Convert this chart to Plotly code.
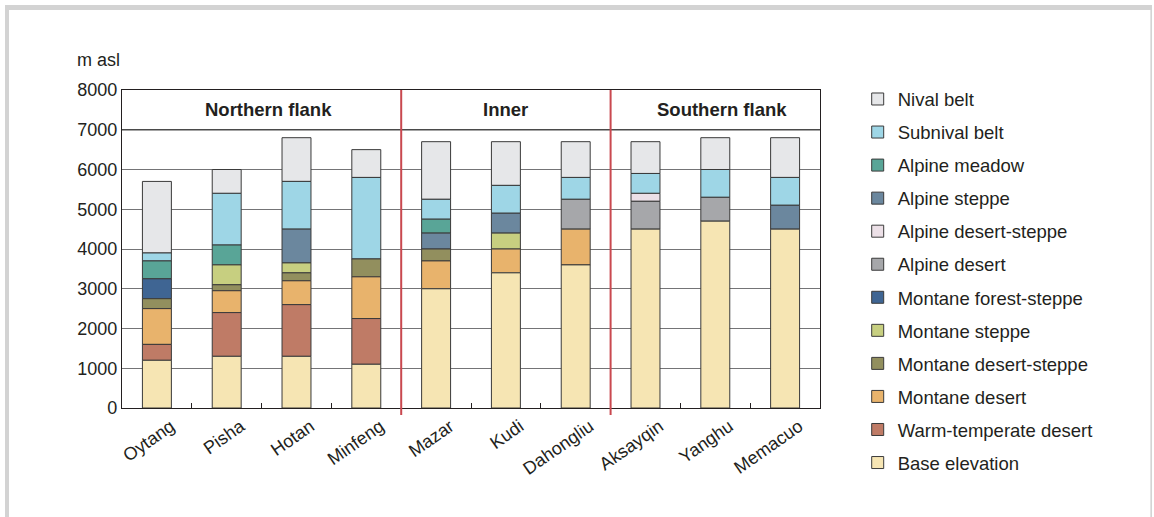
import plotly.graph_objects as go

# Sampling sites, west/north to south
sites = ["Oytang", "Pisha", "Hotan", "Minfeng", "Mazar", "Kudi",
         "Dahongliu", "Aksayqin", "Yanghu", "Memacuo"]

# Upper limit (m asl) of each altitudinal belt at each site; None = belt absent.
# Belts are listed from the valley floor upwards.
base_elevation = [1200, 1300, 1300, 1100, 3000, 3400, 3600, 4500, 4700, 4500]
warm_temperate_desert = [1600, 2400, 2600, 2250, None, None, None, None, None, None]
montane_desert = [2500, 2950, 3200, 3300, 3700, 4000, 4500, None, None, None]
montane_desert_steppe = [2750, 3100, 3400, 3750, 4000, None, None, None, None, None]
montane_steppe = [None, 3600, 3650, None, None, 4400, None, None, None, None]
montane_forest_steppe = [3250, None, None, None, None, None, None, None, None, None]
alpine_desert = [None, None, None, None, None, None, 5250, 5200, 5300, None]
alpine_desert_steppe = [None, None, None, None, None, None, None, 5400, None, None]
alpine_steppe = [None, None, 4500, None, 4400, 4900, None, None, None, 5100]
alpine_meadow = [3700, 4100, None, None, 4750, None, None, None, None, None]
subnival_belt = [3900, 5400, 5700, 5800, 5250, 5600, 5800, 5900, 6000, 5800]
nival_belt = [5700, 6000, 6800, 6500, 6700, 6700, 6700, 6700, 6800, 6800]

belts = [
    ("Base elevation", base_elevation, "#f6e5b3"),
    ("Warm-temperate desert", warm_temperate_desert, "#bf7b66"),
    ("Montane desert", montane_desert, "#e8b36c"),
    ("Montane desert-steppe", montane_desert_steppe, "#928f5e"),
    ("Montane steppe", montane_steppe, "#c7cf80"),
    ("Montane forest-steppe", montane_forest_steppe, "#3f6593"),
    ("Alpine desert", alpine_desert, "#a6a7aa"),
    ("Alpine desert-steppe", alpine_desert_steppe, "#ece0e7"),
    ("Alpine steppe", alpine_steppe, "#6b879e"),
    ("Alpine meadow", alpine_meadow, "#59a597"),
    ("Subnival belt", subnival_belt, "#9ed6e6"),
    ("Nival belt", nival_belt, "#e6e7e9"),
]

groups = [("Northern flank", 1.6), ("Inner", 5.0), ("Southern flank", 8.1)]
group_dividers = [3.5, 6.5]

FONT = "Liberation Sans, Arial, sans-serif"
INK = "#231f20"

# Each belt spans from the top of the belt below it to its own upper limit
lower = [0] * len(sites)
segments = []
for name, upper, color in belts:
    bases, heights = [], []
    for i, top in enumerate(upper):
        if top is None:
            bases.append(None)
            heights.append(None)
        else:
            bases.append(lower[i])
            heights.append(top - lower[i])
            lower[i] = top
    segments.append((name, bases, heights, color))

fig = go.Figure()
# Highest belt first so the legend reads top-down like the bars
for name, bases, heights, color in reversed(segments):
    fig.add_trace(go.Bar(
        x=sites, y=heights, base=bases, name=name,
        legendgroup=name,
        marker=dict(color=color, line=dict(color="#3a3a3a", width=1)),
    ))

shapes = []
# Header band separator
shapes.append(dict(type="line", xref="paper", yref="y", x0=0, x1=1, y0=7000, y1=7000,
                   line=dict(color="#4a4a4a", width=1.5), layer="above"))
# Group dividers
for xd in group_dividers:
    shapes.append(dict(type="line", xref="x", yref="paper", x0=xd, x1=xd, y0=-0.022, y1=1,
                       line=dict(color="#c9484f", width=2), layer="above"))
# Light frame around the figure
frame_col = "#d3d3d3"
shapes.append(dict(type="rect", xref="paper", yref="paper", x0=-0.1676, x1=1.4756,
                   y0=1.2516, y1=1.2673, line=dict(width=0), fillcolor=frame_col))
shapes.append(dict(type="rect", xref="paper", yref="paper", x0=-0.1676, x1=-0.1619,
                   y0=-0.35, y1=1.2673, line=dict(width=0), fillcolor=frame_col))
shapes.append(dict(type="rect", xref="paper", yref="paper", x0=1.4733, x1=1.4756,
                   y0=-0.35, y1=1.2673, line=dict(width=0), fillcolor=frame_col))

annotations = [
    dict(text=f"<b>{label}</b>", x=gx, y=7500, xref="x", yref="y", showarrow=False,
         font=dict(family=FONT, size=18.5, color=INK))
    for label, gx in groups
]
annotations.append(dict(text="m asl", x=-0.0673, y=1.095, xref="paper", yref="paper",
                        xanchor="left", yanchor="middle", showarrow=False,
                        font=dict(family=FONT, size=18, color=INK)))

fig.update_layout(
    width=1154, height=517,
    margin=dict(l=122, r=334, t=90, b=109),
    paper_bgcolor="white", plot_bgcolor="white",
    barmode="overlay", bargap=0.585,
    font=dict(family=FONT, size=18, color=INK),
    showlegend=True,
    legend=dict(
        x=1.054, xanchor="left", y=1.03, yanchor="top",
        traceorder="grouped", tracegroupgap=6,
        font=dict(family=FONT, size=18.5, color=INK),
        bgcolor="rgba(0,0,0,0)", maxheight=1,
    ),
    shapes=shapes,
    annotations=annotations,
)
fig.update_xaxes(
    type="category", range=[-0.5, 9.5], tickangle=-35,
    showline=True, mirror=True, linecolor=INK, linewidth=1.2,
    ticks="inside", tickson="boundaries", ticklen=5, tickcolor=INK,
    ticklabelshift=14,
    showgrid=False, tickfont=dict(family=FONT, size=18, color=INK),
)
fig.update_yaxes(
    range=[0, 8000], dtick=1000, tickformat="d",
    showline=True, mirror=True, linecolor=INK, linewidth=1.2,
    showgrid=True, gridcolor="#747476", gridwidth=1.3, zeroline=False,
    ticks="", tickfont=dict(family=FONT, size=18, color=INK),
)

fig.write_html("out.html")
